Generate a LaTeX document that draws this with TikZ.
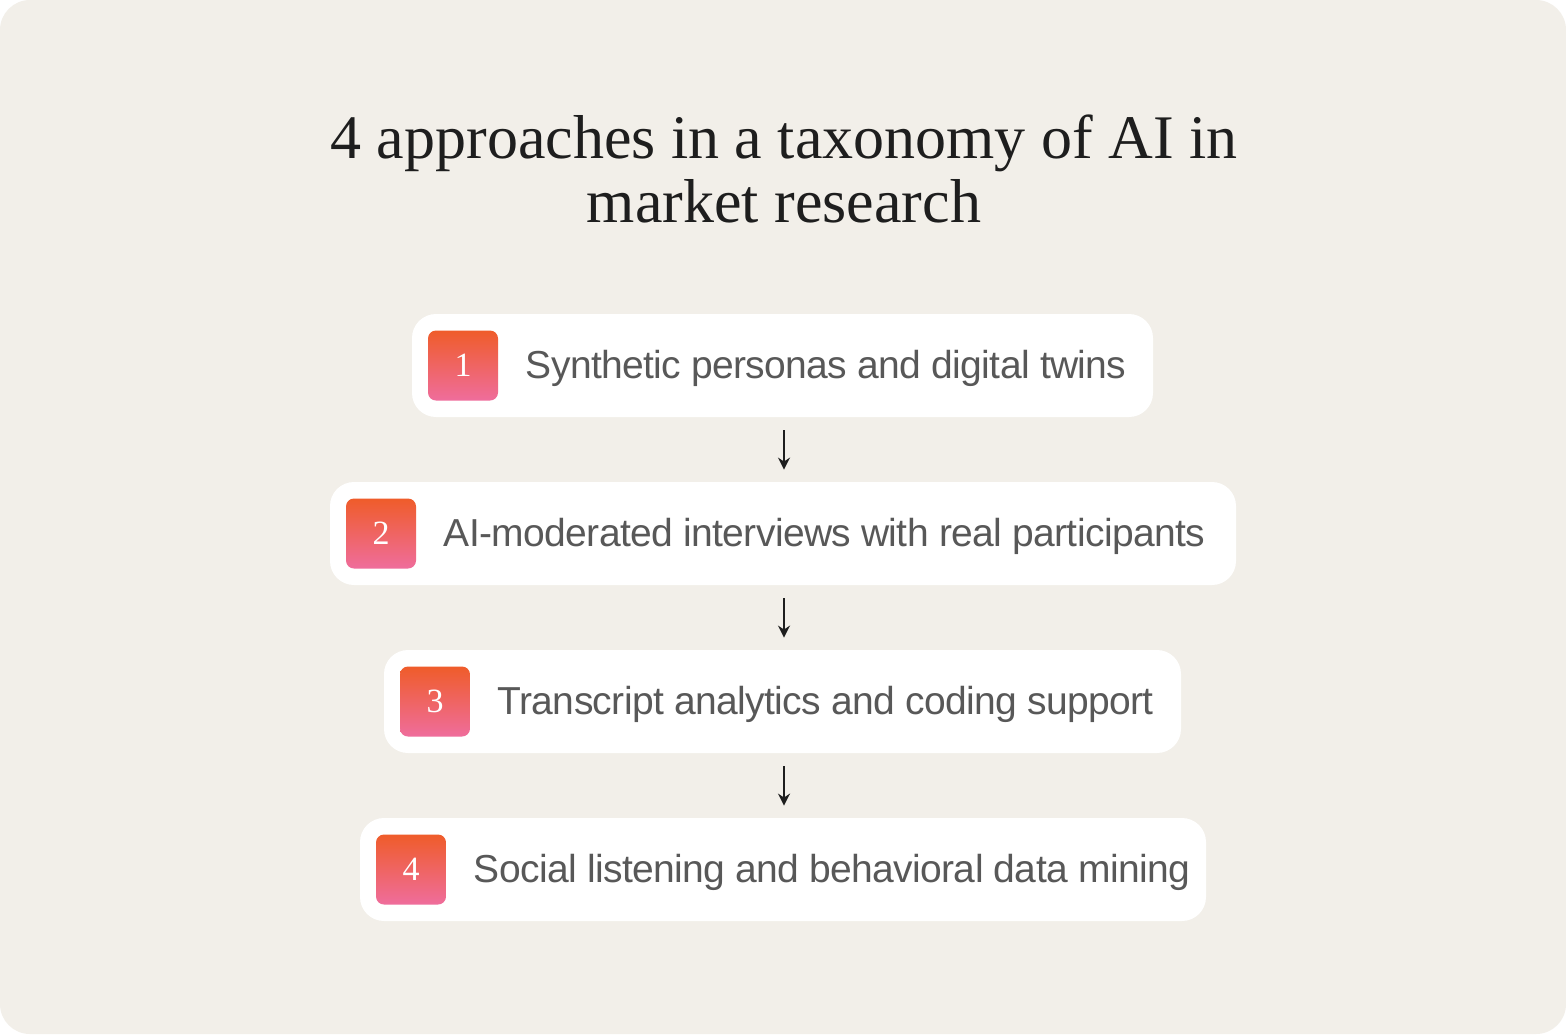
\documentclass[tikz,border=0pt]{standalone}
\usepackage{fontspec}
\setmainfont{Liberation Serif}
\newfontfamily\itemfamily[LetterSpace=-1.6]{Liberation Sans}
\usetikzlibrary{positioning, arrows.meta}

\definecolor{paper}{HTML}{F2EFE9}
\definecolor{inkdark}{HTML}{1E1E1E}
\definecolor{inkgrey}{HTML}{585858}
\definecolor{badgetop}{HTML}{EF5C2A}
\definecolor{badgemid}{HTML}{F18A50}
\definecolor{badgelow}{HTML}{EF6D9C}

\tikzset{
  card/.style={fill=white, rounded corners=12pt, minimum height=51.5pt, inner sep=0pt},
  badge/.style={rounded corners=4pt, minimum size=35pt, inner sep=0pt,
    top color=badgetop, middle color=badgemid, bottom color=badgelow,
    text=white, font=\fontsize{17}{17}\selectfont},
  item/.style={anchor=base west, inner sep=0pt, text=inkgrey,
    font=\itemfamily\fontsize{19.5}{19.5}\selectfont},
  headline/.style={anchor=base, inner sep=0pt, text=inkdark,
    font=\fontsize{31}{31}\selectfont},
  flow/.style={-{Stealth[length=6pt, width=6pt]}, line width=1.3pt, draw=inkdark}
}

\begin{document}
\begin{tikzpicture}[x=0.5pt, y=-0.5pt]
    % page
    \fill[white] (0, 0) rectangle (1566, 1034);
    \fill[paper, rounded corners=15pt] (0, 0) rectangle (1566, 1034);
    \useasboundingbox (0, 0) rectangle (1566, 1034);

    % title
    \node[headline] (title1) at (784, 158) {4 approaches in a taxonomy of AI in};
    \node[headline] (title2) at (784, 222) {market research};

    % cards
    \node[card, minimum width=370.5pt] (card1) at (782.5, 365.5) {};
    \node[card, minimum width=453pt]   (card2) at (783, 533.5) {};
    \node[card, minimum width=398.5pt] (card3) at (782.5, 701.5) {};
    \node[card, minimum width=423pt]   (card4) at (783, 869.5) {};

    % badges
    \node[badge, right=8pt of card1.west] (badge1) {1};
    \node[badge, right=8pt of card2.west] (badge2) {2};
    \node[badge, right=8pt of card3.west] (badge3) {3};
    \node[badge, right=8pt of card4.west] (badge4) {4};

    % labels
    \node[item] (item1) at ([xshift=13.5pt, yshift=-6.25pt] badge1.east) {Synthetic personas and digital twins};
    \node[item] (item2) at ([xshift=13.5pt, yshift=-6.25pt] badge2.east) {AI-moderated interviews with real participants};
    \node[item] (item3) at ([xshift=13.5pt, yshift=-6.25pt] badge3.east) {Transcript analytics and coding support};
    \node[item] (item4) at ([xshift=13.5pt, yshift=-6.25pt] badge4.east) {Social listening and behavioral data mining};

    % arrows
    \draw[flow] ([yshift=-6.5pt] card1.south -| 784, 0) -- ([yshift=6pt] card2.north -| 784, 0);
    \draw[flow] ([yshift=-6.5pt] card2.south -| 784, 0) -- ([yshift=6pt] card3.north -| 784, 0);
    \draw[flow] ([yshift=-6.5pt] card3.south -| 784, 0) -- ([yshift=6pt] card4.north -| 784, 0);
\end{tikzpicture}
\end{document}
